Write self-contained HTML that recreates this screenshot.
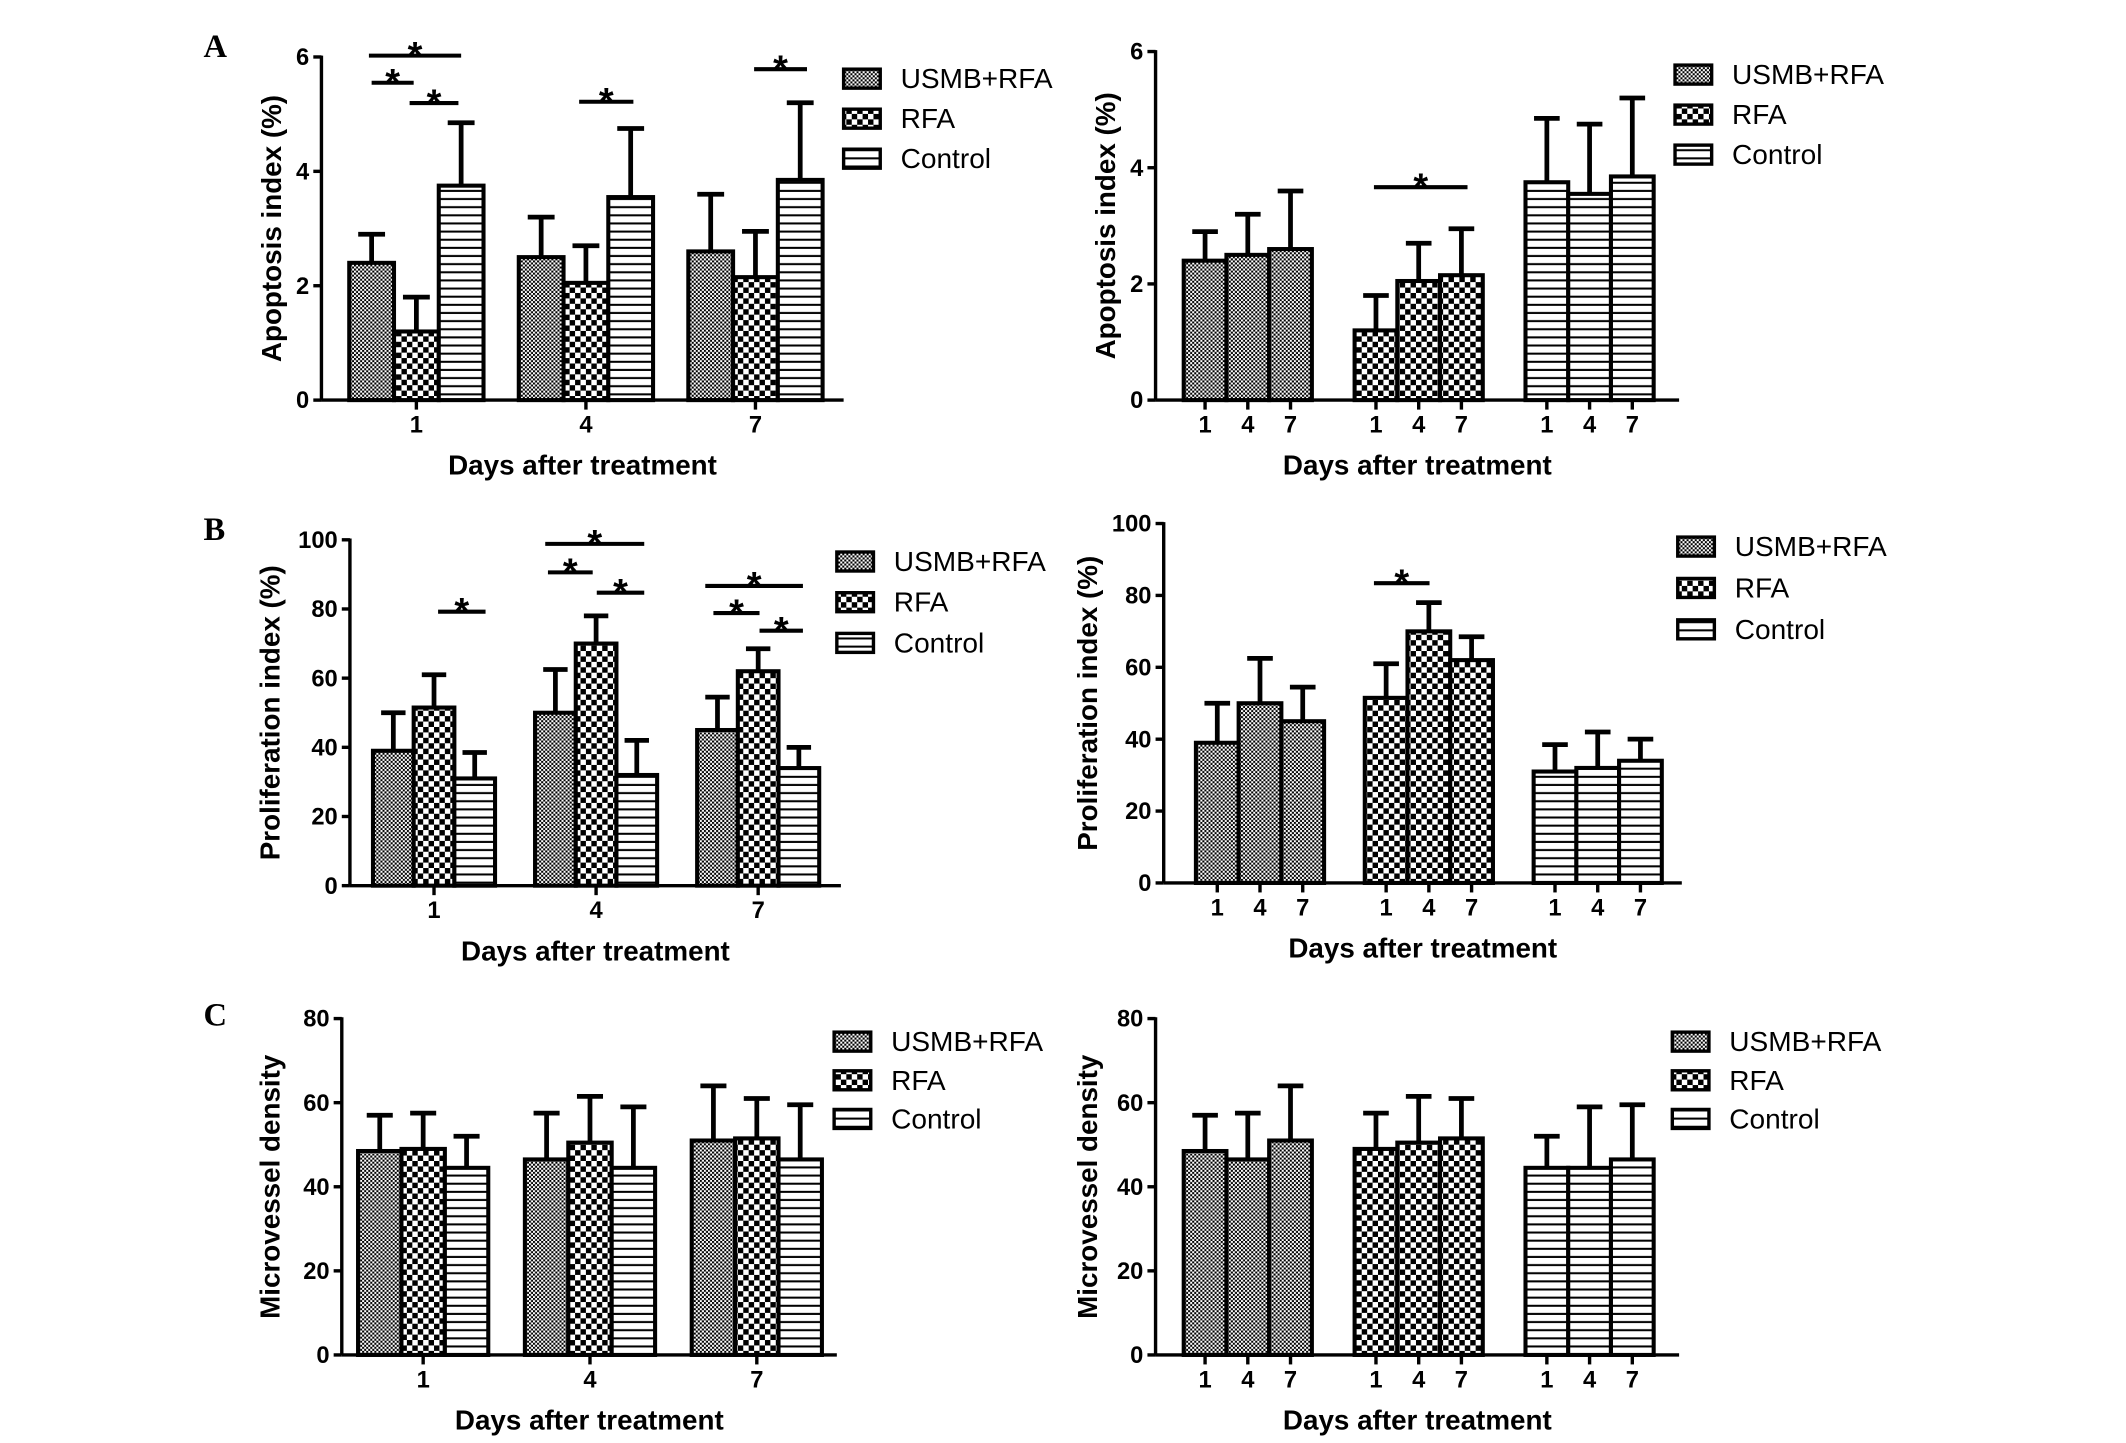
<!DOCTYPE html>
<html><head><meta charset="utf-8"><style>
html,body{margin:0;padding:0;background:#fff}
svg{display:block}
text{font-family:"Liberation Sans",Arial,sans-serif}
</style></head><body>
<svg id="fig" width="2126" height="1443" viewBox="0 0 1567.5 1063.5" preserveAspectRatio="xMinYMin meet" xmlns="http://www.w3.org/2000/svg">
<defs>
<pattern id="pU" width="3" height="3" patternUnits="userSpaceOnUse"><rect width="3" height="3" fill="#fff"/><rect width="1.5" height="1.5" fill="#000"/><rect x="1.5" y="1.5" width="1.5" height="1.5" fill="#000"/></pattern>
<pattern id="pR" width="8" height="8" patternUnits="userSpaceOnUse"><rect width="8" height="8" fill="#fff"/><rect x="0" y="0" width="4" height="4" fill="#000"/><rect x="4" y="4" width="4" height="4" fill="#000"/></pattern>
<pattern id="pC" width="6" height="6" patternUnits="userSpaceOnUse"><rect width="6" height="6" fill="#fff"/><rect y="2" width="6" height="1.5" fill="#000"/></pattern>
</defs>
<text x="150" y="42" font-weight="bold" font-size="24" style="font-family:'Liberation Serif',serif">A</text>
<text x="150" y="398" font-weight="bold" font-size="24" style="font-family:'Liberation Serif',serif">B</text>
<text x="150" y="756" font-weight="bold" font-size="24" style="font-family:'Liberation Serif',serif">C</text>
</svg>
<script>
// ---- data ----
const days = ['1','4','7'];
const groupNames = ['USMB+RFA','RFA','Control'];
// Apoptosis (A)
const apoUsmb = [2.4, 2.5, 2.6];
const apoUsmbErr = [2.9, 3.2, 3.6];
const apoRfa = [1.2, 2.05, 2.15];
const apoRfaErr = [1.8, 2.7, 2.95];
const apoCtrl = [3.75, 3.55, 3.85];
const apoCtrlErr = [4.85, 4.75, 5.2];
const apoTicks = [0, 2, 4, 6];
// Proliferation (B)
const proUsmb = [39, 50, 45];
const proUsmbErr = [50, 62.5, 54.5];
const proRfa = [51.5, 70, 62];
const proRfaErr = [61, 78, 68.5];
const proCtrl = [31, 32, 34];
const proCtrlErr = [38.5, 42, 40];
const proTicks = [0, 20, 40, 60, 80, 100];
// Microvessel density (C)
const mvdUsmb = [48.5, 46.5, 51];
const mvdUsmbErr = [57, 57.5, 64];
const mvdRfa = [49, 50.5, 51.5];
const mvdRfaErr = [57.5, 61.5, 61];
const mvdCtrl = [44.5, 44.5, 46.5];
const mvdCtrlErr = [52, 59, 59.5];
const mvdTicks = [0, 20, 40, 60, 80];

const NS = 'http://www.w3.org/2000/svg';
const svg = document.getElementById('fig');
const fills = ['url(#pU)','url(#pR)','url(#pC)'];
function mk(tag, attrs, parent){
  const e = document.createElementNS(NS, tag);
  for (const k in attrs) e.setAttribute(k, attrs[k]);
  (parent||svg).appendChild(e);
  return e;
}
function txt(x,y,s,size,anchor,parent,extra){
  const t = mk('text',Object.assign({x:x,y:y,'font-size':size,'font-weight':'bold','text-anchor':anchor||'middle'},extra||{}),parent);
  t.textContent = s; return t;
}

function chart(cfg, vals, errs, ticks, ylabel, legend, name){
  const g = mk('g',{});
  
  
  const y = v => cfg.y0 - (v/cfg.vmax)*(cfg.y0-cfg.ytop);
  for (let t=0;t<3;t++){
    for (let d=0;d<3;d++){
      let cx;
      if (cfg.byT){ cx = cfg.c0 + t*cfg.step + (d-1)*cfg.bw; }
      else { cx = cfg.c0 + d*cfg.step + (t-1)*cfg.bw; }
      const v = vals[t][d], e = errs[t][d];
      const ly = mk('line',{x1:cx,x2:cx,y1:y(v),y2:y(e),stroke:'#000','stroke-width':3.5},g);
      
      
      const cap = mk('line',{x1:cx-cfg.bw*0.3,x2:cx+cfg.bw*0.3,y1:y(e),y2:y(e),stroke:'#000','stroke-width':3.5},g);
      
      
      const r = mk('rect',{x:cx-cfg.bw/2,y:y(v),width:cfg.bw,height:cfg.y0-y(v),fill:fills[t],stroke:'#000','stroke-width':3},g);
      
      
      if (cfg.byT){
        const tk = mk('line',{x1:cx,x2:cx,y1:cfg.y0,y2:cfg.y0+7,stroke:'#000','stroke-width':2.5},g);
        
        
        const tl = txt(cx,cfg.y0+24,days[d],17.5,'middle',g);
        
        
      }
    }
  }
  if (!cfg.byT){
    for (let d=0;d<3;d++){
      const cx = cfg.c0 + d*cfg.step;
      const tk = mk('line',{x1:cx,x2:cx,y1:cfg.y0,y2:cfg.y0+7,stroke:'#000','stroke-width':2.5},g);
      
      
      const tl = txt(cx,cfg.y0+24,days[d],17.5,'middle',g);
      
      
    }
  }
  const ya = mk('line',{x1:cfg.ax,x2:cfg.ax,y1:cfg.ytop-1,y2:cfg.y0,stroke:'#000','stroke-width':2.5},g);
  
  
  const xa = mk('line',{x1:cfg.ax,x2:cfg.xe,y1:cfg.y0,y2:cfg.y0,stroke:'#000','stroke-width':2.5},g);
  
  
  ticks.forEach(v=>{
    const tk = mk('line',{x1:cfg.ax-6,x2:cfg.ax,y1:y(v),y2:y(v),stroke:'#000','stroke-width':2.5},g);
    
    
    const tl = txt(cfg.ax-9,y(v)+6,String(v),17.5,'end',g);
    
    
  });
  const yt = txt(0,0,ylabel,20.5,'middle',g,{transform:'translate('+(cfg.ax-cfg.yo)+','+((cfg.y0+cfg.ytop)/2)+') rotate(-90)'});
  
  
  const xt = txt((cfg.ax+cfg.xe)/2,cfg.y0+55,'Days after treatment',20.5,'middle',g);
  
  
  for (let t=0;t<3;t++){
    const ly0 = legend.y + t*legend.dy;
    const b = mk('rect',{x:legend.x,y:ly0-7,width:27,height:14,fill:fills[t],stroke:'#000','stroke-width':2.5},g);
    
    
    const lt = txt(legend.x+42,ly0+7,groupNames[t],20.7,'start',g,{'font-weight':'normal'});
    
    
  }
  return {g:g,y:y};
}
function sig(g,x1,x2,yy){
  const l = mk('line',{x1:x1,x2:x2,y1:yy,y2:yy,stroke:'#000','stroke-width':3},g);
  
  
  const s = txt((x1+x2)/2,yy+9,'*',28,'middle',g);
  
  
}

const A = [apoUsmb,apoRfa,apoCtrl], Ae=[apoUsmbErr,apoRfaErr,apoCtrlErr];
const B = [proUsmb,proRfa,proCtrl], Be=[proUsmbErr,proRfaErr,proCtrlErr];
const C = [mvdUsmb,mvdRfa,mvdCtrl], Ce=[mvdUsmbErr,mvdRfaErr,mvdCtrlErr];

let c;
c = chart({ax:237,y0:295,ytop:42,xe:622,vmax:6,byT:false,c0:307,step:125,bw:33,yo:30},A,Ae,apoTicks,'Apoptosis index (%)',{x:622,y:58,dy:29.5},'apoptosis-by-day-chart');
sig(c.g,272,340,41); sig(c.g,274,305,61); sig(c.g,302,338,76); sig(c.g,427,467,75); sig(c.g,556,595,51);
c = chart({ax:852,y0:295,ytop:38,xe:1238,vmax:6,byT:true,c0:920,step:126,bw:31.5,yo:30},A,Ae,apoTicks,'Apoptosis index (%)',{x:1235,y:55,dy:29.5},'apoptosis-by-treatment-chart');
sig(c.g,1013,1082,138);
c = chart({ax:258,y0:653,ytop:398,xe:620,vmax:100,byT:false,c0:320,step:119.5,bw:30,yo:52},B,Be,proTicks,'Proliferation index (%)',{x:617,y:414,dy:30},'proliferation-by-day-chart');
sig(c.g,323,358,451); sig(c.g,402,475,401); sig(c.g,404,437,422); sig(c.g,440,475,437); sig(c.g,520,592,432); sig(c.g,526,560,452); sig(c.g,560,592,465);
c = chart({ax:858,y0:651,ytop:386,xe:1240,vmax:100,byT:true,c0:929,step:124.5,bw:31.5,yo:49},B,Be,proTicks,'Proliferation index (%)',{x:1237,y:403,dy:30.5},'proliferation-by-treatment-chart');
sig(c.g,1013,1054,430);
chart({ax:252,y0:999,ytop:751,xe:617,vmax:80,byT:false,c0:312,step:123,bw:32,yo:46},C,Ce,mvdTicks,'Microvessel density',{x:615,y:768,dy:28.5},'mvd-by-day-chart');
chart({ax:852,y0:999,ytop:751,xe:1238,vmax:80,byT:true,c0:920,step:126,bw:31.5,yo:43},C,Ce,mvdTicks,'Microvessel density',{x:1233,y:768,dy:28.5},'mvd-by-treatment-chart');
</script>
</body></html>
